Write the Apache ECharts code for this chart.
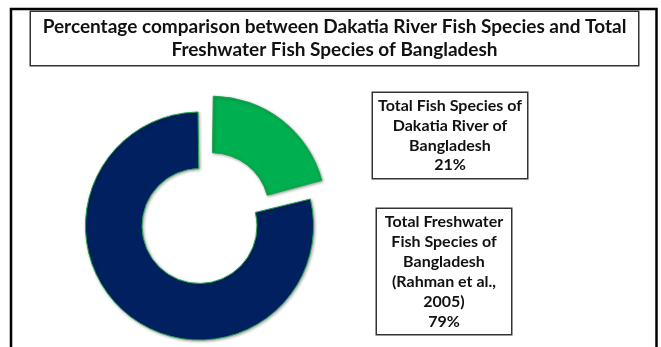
<!DOCTYPE html>
<html>
<head>
<meta charset="utf-8">
<script src="https://cdn.jsdelivr.net/npm/echarts@6/dist/echarts.min.js"></script>
<style>
html,body{margin:0;padding:0;background:#fff;}
#chart{width:661px;height:347px;}
</style>
</head>
<body>
<div id="chart"></div>
<script>
const titleLines = ['Percentage comparison between Dakatia River Fish Species and Total', 'Freshwater Fish Species of Bangladesh'];
const categories = ['Total Fish Species of\nDakatia River of\nBangladesh', 'Total Freshwater\nFish Species of\nBangladesh\n(Rahman et al.,\n2005)'];
const values = [21, 79];
const colors = ['#00B050', '#002060'];

const FONT = 'Lato, Carlito, Calibri, sans-serif';
const chart = echarts.init(document.getElementById('chart'), null, {renderer: 'canvas'});

const labelBoxes = [
  {cx: 450, cy: 135.5, w: 144, pad: [3, 5], lh: 19.7},
  {cx: 444, cy: 271.5, w: 124, pad: [2.5, 5], lh: 20}
];

const graphics = [{
  type: 'rect',
  shape: {x: 11, y: 9, width: 645.5, height: 350},
  style: {fill: null, stroke: '#000000', lineWidth: 2.5},
  silent: true,
  z: 100
}, {
  type: 'text',
  x: 334.5,
  y: 38.5,
  silent: true,
  style: {
    text: titleLines.join('\n'),
    align: 'center',
    verticalAlign: 'middle',
    width: 595,
    fontFamily: FONT,
    fontWeight: 'bold',
    fontSize: 19,
    lineHeight: 23,
    fill: '#111111',
    backgroundColor: '#ffffff',
    borderColor: '#333333',
    borderWidth: 1.5,
    padding: [3.5, 6]
  }
}];

categories.forEach((c, i) => {
  const b = labelBoxes[i];
  graphics.push({
    type: 'text',
    x: b.cx,
    y: b.cy,
    silent: true,
    style: {
      text: c + '\n' + values[i] + '%',
      align: 'center',
      verticalAlign: 'middle',
      width: b.w,
      fontFamily: FONT,
      fontWeight: 'bold',
      fontSize: 16,
      lineHeight: b.lh,
      fill: '#111111',
      backgroundColor: '#ffffff',
      borderColor: '#333333',
      borderWidth: 1.5,
      padding: b.pad
    }
  });
});

const option = {
  backgroundColor: '#ffffff',
  animation: false,
  graphic: graphics,
  series: [{
    type: 'pie',
    center: [199.5, 226],
    radius: [57.5, 114],
    startAngle: 90,
    clockwise: true,
    padAngle: 1.5,
    selectedMode: 'single',
    selectedOffset: 20,
    label: {show: false},
    labelLine: {show: false},
    data: categories.map((c, i) => ({
      name: c,
      value: values[i],
      selected: i === 0,
      itemStyle: {
        color: colors[i],
        borderColor: '#1fa150',
        borderWidth: 1,
        shadowBlur: 3,
        shadowColor: 'rgba(0,0,0,0.35)',
        shadowOffsetX: 1,
        shadowOffsetY: 1
      }
    })),
    emphasis: {disabled: true}
  }]
};
chart.setOption(option);
</script>
</body>
</html>
